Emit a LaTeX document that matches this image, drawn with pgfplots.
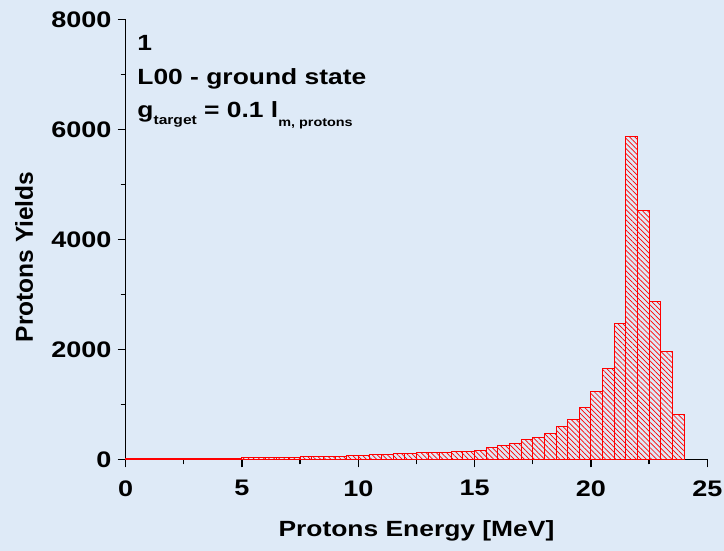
\documentclass[border=0pt]{standalone}
\usepackage{fontspec}
\setmainfont[FakeStretch=1.2]{Liberation Sans}
\newfontfamily\plainsans{Liberation Sans}
\usepackage{pgfplots}
\pgfplotsset{compat=1.18}
\usetikzlibrary{patterns.meta}
\definecolor{bg}{RGB}{222,234,247}

\begin{document}
\begin{tikzpicture}
\fill[bg] (-125.6pt,-91.7pt) rectangle (598.4pt,459.3pt);
\begin{axis}[
  scale only axis, width=581.7pt, height=440pt,
  xmin=0, xmax=25, ymin=0, ymax=8000,
  clip=false,
  axis lines=left,
  axis line style={-, line width=1.4pt, black},
  tick align=outside,
  major tick length=8pt, minor tick length=5pt,
  every tick/.style={line width=1.3pt, black},
  xtick={0,5,10,15,20,25},
  ytick={0,2000,4000,6000,8000},
  minor xtick={2.5,7.5,12.5,17.5,22.5},
  minor ytick={1000,3000,5000,7000},
  /pgf/number format/assume math mode=true,
  /pgf/number format/1000 sep={},
  ticklabel style={font=\bfseries\fontsize{22.5}{22.5}\selectfont},
  xticklabel style={inner sep=0pt, yshift=-13pt},
  yticklabel style={inner sep=0pt, xshift=-6pt},
]
\addplot[ybar interval, draw=red, line width=1pt,
  pattern={Lines[angle=-45,distance=3.6pt,line width=0.7pt]}, pattern color=red]
  coordinates {
  (0,8) (0.5,8) (1,10) (1.5,10) (2,12) (2.5,14) (3,16) (3.5,18)
  (4,20) (4.5,22) (5,25) (5.5,28) (6,32) (6.5,35) (7,38) (7.5,42)
  (8,45) (8.5,48) (9,55) (9.5,62) (10,72) (10.5,80) (11,90) (11.5,100)
  (12,108) (12.5,115) (13,120) (13.5,128) (14,138) (14.5,148) (15,164) (15.5,211)
  (16,255) (16.5,296) (17,351) (17.5,393) (18,473) (18.5,605) (19,727) (19.5,938)
  (20,1229) (20.5,1655) (21,2473) (21.5,5878) (22,4520) (22.5,2878) (23,1956) (23.5,811)
  (24,811)
  };
\node[anchor=base west, inner sep=0pt, font=\bfseries\fontsize{22}{22}\selectfont] at (axis cs:0.5,7424) {1};
\node[anchor=base west, inner sep=0pt, font=\bfseries\fontsize{22}{22}\selectfont] at (axis cs:0.5,6818) {L00 - ground state};
\node[anchor=base west, inner sep=0pt, font=\bfseries\fontsize{22}{22}\selectfont] at (axis cs:0.5,6218)
  {g\raisebox{-7pt}{\fontsize{13}{13}\selectfont target} = 0.1 l\raisebox{-9pt}{\fontsize{12}{12}\selectfont m, protons}};
\node[anchor=base, inner sep=0pt, font=\bfseries\fontsize{22}{22}\selectfont] at ([yshift=-77.4pt]rel axis cs:0.5,0) {Protons Energy [MeV]};
\node[anchor=base, rotate=90, inner sep=0pt, font=\plainsans\bfseries\fontsize{24.5}{24.5}\selectfont] at ([xshift=-92.6pt]rel axis cs:0,0.4598) {Protons Yields};
\end{axis}
\end{tikzpicture}
\end{document}
